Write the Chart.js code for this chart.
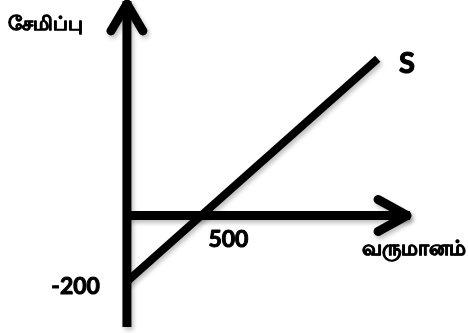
<!DOCTYPE html>
<html>
<head>
<meta charset="utf-8">
<script src="https://cdn.jsdelivr.net/npm/chart.js@4/dist/chart.umd.min.js"></script>
<style>
html,body{margin:0;padding:0;background:#fff;}
#wrap{width:468px;height:333px;}
</style>
</head>
<body>
<div id="wrap"><canvas id="c" width="468" height="333"></canvas></div>
<script>
// Data
const sLineX = [0, 1640];
const sLineY = [-200, 475];
const xAxisLineX = [0, 1851];
const xAxisLineY = [0, 0];
const yAxisLineX = [0, 0];
const yAxisLineY = [-338, 650];
const xTickLabel = "500";
const xTickValue = 500;
const yTickLabel = "-200";
const yTickValue = -200;
const yAxisTitle = "சேமிப்பு";
const xAxisTitle = "வருமானம்";
const seriesName = "S";

const toPts = (xs, ys) => xs.map((x, i) => ({x: x, y: ys[i]}));

const shadowPlugin = {
  id: 'shadow',
  beforeDatasetDraw(chart) {
    const ctx = chart.ctx;
    ctx.save();
    ctx.shadowColor = 'rgba(0,0,0,0.25)';
    ctx.shadowBlur = 4;
    ctx.shadowOffsetX = 2;
    ctx.shadowOffsetY = 3;
  },
  afterDatasetDraw(chart) {
    chart.ctx.restore();
  }
};

function boldText(ctx, txt, x, y, w) {
  ctx.lineWidth = w;
  ctx.strokeStyle = '#000';
  ctx.lineJoin = 'round';
  ctx.strokeText(txt, x, y);
  ctx.fillText(txt, x, y);
}

const decorPlugin = {
  id: 'decor',
  afterDatasetsDraw(chart) {
    const ctx = chart.ctx;
    const xs = chart.scales.x, ys = chart.scales.y;
    ctx.save();
    ctx.shadowColor = 'rgba(0,0,0,0.25)';
    ctx.shadowBlur = 4;
    ctx.shadowOffsetX = 2;
    ctx.shadowOffsetY = 3;
    ctx.strokeStyle = '#000';
    ctx.lineWidth = 9;
    ctx.lineCap = 'round';
    ctx.lineJoin = 'round';
    // Y arrow head
    const yx = xs.getPixelForValue(0), yt = ys.getPixelForValue(yAxisLineY[1]);
    ctx.beginPath();
    ctx.moveTo(yx - 16, yt + 30);
    ctx.lineTo(yx, yt + 3);
    ctx.lineTo(yx + 16, yt + 30);
    ctx.stroke();
    // X arrow head
    const xt = xs.getPixelForValue(xAxisLineX[1]), xy = ys.getPixelForValue(0);
    ctx.beginPath();
    ctx.moveTo(xt - 32, xy - 16);
    ctx.lineTo(xt - 3, xy);
    ctx.lineTo(xt - 32, xy + 16);
    ctx.stroke();
    ctx.restore();

    // Texts
    ctx.save();
    ctx.fillStyle = '#000';
    ctx.textBaseline = 'middle';
    ctx.font = 'bold 23px Lato, "Liberation Sans", sans-serif';
    ctx.textAlign = 'left';
    boldText(ctx, xTickLabel, xs.getPixelForValue(xTickValue) + 5, ys.getPixelForValue(0) + 24, 1);
    ctx.textAlign = 'right';
    boldText(ctx, yTickLabel, xs.getPixelForValue(0) - 27, ys.getPixelForValue(yTickValue) + 5, 1);
    ctx.textAlign = 'left';
    ctx.font = 'bold 29px Lato, "Liberation Sans", sans-serif';
    boldText(ctx, seriesName, 399, 64, 1.2);
    ctx.font = 'bold 20px Lato, sans-serif';
    boldText(ctx, yAxisTitle, 8, 24, 0.9);
    ctx.font = 'bold 21px Lato, sans-serif';
    ctx.textAlign = 'right';
    boldText(ctx, xAxisTitle, 466, 248, 0.9);
    ctx.restore();
  }
};

function build() {
  new Chart(document.getElementById('c'), {
    type: 'scatter',
    data: {
      datasets: [
        { label: 'yaxis', data: toPts(yAxisLineX, yAxisLineY), showLine: true, borderColor: '#000', borderWidth: 9, pointRadius: 0, borderCapStyle: 'butt' },
        { label: 'xaxis', data: toPts(xAxisLineX, xAxisLineY), showLine: true, borderColor: '#000', borderWidth: 9, pointRadius: 0, borderCapStyle: 'butt' },
        { label: seriesName, data: toPts(sLineX, sLineY), showLine: true, borderColor: '#000', borderWidth: 8, pointRadius: 0, borderCapStyle: 'butt' }
      ]
    },
    options: {
      responsive: false,
      animation: false,
      layout: { padding: 0 },
      plugins: { legend: { display: false }, tooltip: { enabled: false } },
      scales: {
        x: { type: 'linear', min: -830, max: 2230, display: false },
        y: { type: 'linear', min: -356, max: 653, display: false }
      }
    },
    plugins: [shadowPlugin, decorPlugin]
  });
}

if (document.fonts && document.fonts.load) {
  Promise.all([
    document.fonts.load('bold 23px Lato', '500-200S'),
    document.fonts.load('bold 20px Lato', yAxisTitle + xAxisTitle)
  ]).then(build, build);
} else {
  build();
}
</script>
</body>
</html>
